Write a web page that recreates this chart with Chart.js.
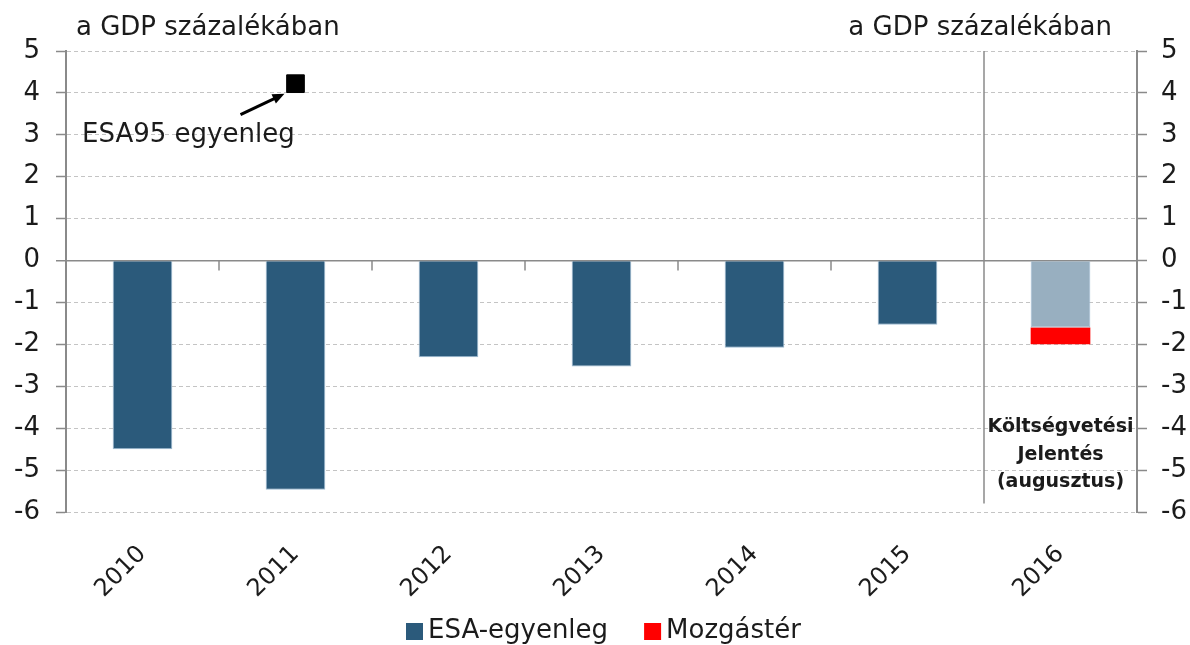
<!DOCTYPE html>
<html>
<head>
<meta charset="utf-8">
<script src="https://cdn.jsdelivr.net/npm/chart.js@4.4.1/dist/chart.umd.min.js"></script>
<style>
  html, body { margin: 0; padding: 0; background: #fff; }
  #wrap { width: 1190px; height: 645px; }
</style>
</head>
<body>
<div id="wrap"><canvas id="myChart" width="1190" height="645"></canvas></div>
<script>
// data
const years = ['2010', '2011', '2012', '2013', '2014', '2015', '2016'];
const esaBalance = [-4.5, -5.47, -2.31, -2.53, -2.08, -1.53, -1.6];
const headroom = [null, null, null, null, null, null, -0.4];
const esa95 = [null, 4.22, null, null, null, null, null];
const yTicks = [5, 4, 3, 2, 1, 0, -1, -2, -3, -4, -5, -6];

const FONT = '"DejaVu Sans", sans-serif';
const TEXT = '#1b1b1b';
const AXIS = '#8a8a8a';

const esaColors = years.map((y, i) => i === 6 ? '#98afc0' : '#2b5a7b');

// extra drawing: titles, separator, small ticks on zero line, arrow note, legend
const extras = {
    id: 'extras',
    afterDraw(chart) {
        const c = chart.ctx;
        const x = chart.scales.x;
        const y = chart.scales.y;
        const area = chart.chartArea;
        c.save();
        c.fillStyle = TEXT;
        c.font = '26px ' + FONT;
        c.textBaseline = 'alphabetic';
        c.textAlign = 'left';
        c.fillText('a GDP százalékában', 76, 35);
        c.textAlign = 'right';
        c.fillText('a GDP százalékában', 1112, 35);

        // boundaries between categories
        const y0 = y.getPixelForValue(0);
        c.strokeStyle = AXIS;
        c.lineWidth = 1.5;
        for (let i = 1; i < years.length; i++) {
            const bx = (x.getPixelForValue(i - 1) + x.getPixelForValue(i)) / 2;
            c.beginPath();
            if (i === years.length - 1) {
                c.moveTo(bx, area.top);
                c.lineTo(bx, y.getPixelForValue(-5.8));
            } else {
                c.moveTo(bx, y0);
                c.lineTo(bx, y0 + 10);
            }
            c.stroke();
        }

        // note for the ESA95 point
        const px = x.getPixelForValue(1);
        const py = y.getPixelForValue(esa95[1]);
        const tipX = px - 11, tipY = py + 10;
        const tailX = px - 55, tailY = py + 31;
        c.strokeStyle = '#000';
        c.fillStyle = '#000';
        c.lineWidth = 3;
        c.beginPath();
        c.moveTo(tailX, tailY);
        c.lineTo(tipX - 6, tipY + 3);
        c.stroke();
        const ang = Math.atan2(tipY - tailY, tipX - tailX);
        c.beginPath();
        c.moveTo(tipX, tipY);
        c.lineTo(tipX - 13 * Math.cos(ang - 0.4), tipY - 13 * Math.sin(ang - 0.4));
        c.lineTo(tipX - 13 * Math.cos(ang + 0.4), tipY - 13 * Math.sin(ang + 0.4));
        c.closePath();
        c.fill();

        c.fillStyle = TEXT;
        c.font = '26px ' + FONT;
        c.textAlign = 'left';
        c.fillText('ESA95 egyenleg', 82, 142);

        // note in the 2016 column
        const cx = x.getPixelForValue(6);
        c.font = 'bold 19px ' + FONT;
        c.textAlign = 'center';
        c.textBaseline = 'middle';
        c.fillText('Költségvetési', cx, 427);
        c.fillText('Jelentés', cx, 455);
        c.fillText('(augusztus)', cx, 482);

        // legend
        const items = [
            { text: chart.data.datasets[0].label, color: '#2b5a7b' },
            { text: chart.data.datasets[1].label, color: '#ff0000' }
        ];
        c.font = '26px ' + FONT;
        c.textAlign = 'left';
        c.textBaseline = 'middle';
        let lx = 406;
        const ly = 631;
        items.forEach(it => {
            c.fillStyle = it.color;
            c.fillRect(lx, ly - 8, 17, 17);
            c.fillStyle = TEXT;
            c.fillText(it.text, lx + 22, ly);
            lx += 22 + c.measureText(it.text).width + 36;
        });
        c.restore();
    }
};

const yGrid = {
    color: ctx => ctx.tick && ctx.tick.value === 0 ? AXIS : '#c4c4c4',
    lineWidth: ctx => ctx.tick && ctx.tick.value === 0 ? 1.5 : 1,
    tickColor: AXIS,
    tickLength: 10,
    tickWidth: 1.5,
    tickBorderDash: [],
    drawOnChartArea: true
};

const ctx = document.getElementById('myChart').getContext('2d');
const myChart = new Chart(ctx, {
    type: 'bar',
    data: {
        labels: years,
        datasets: [{
            label: 'ESA-egyenleg',
            data: esaBalance,
            backgroundColor: esaColors,
            borderColor: '#9dbad2',
            borderWidth: 1,
            stack: 's',
            order: 2
        }, {
            label: 'Mozgástér',
            data: headroom,
            backgroundColor: '#ff0000',
            borderWidth: 0,
            stack: 's',
            order: 2
        }, {
            type: 'line',
            label: 'ESA95 egyenleg',
            data: esa95,
            showLine: false,
            pointStyle: 'rect',
            pointRadius: 12.5,
            pointBorderWidth: 1,
            pointBackgroundColor: '#000',
            pointBorderColor: '#000',
            order: 1
        }]
    },
    options: {
        responsive: false,
        animation: false,
        devicePixelRatio: 1,
        categoryPercentage: 1,
        barPercentage: 0.39,
        layout: { padding: { top: 51, left: 0, right: 0, bottom: 40 } },
        plugins: {
            legend: { display: false },
            tooltip: { enabled: false }
        },
        scales: {
            x: {
                stacked: true,
                grid: { display: false },
                border: { display: false },
                ticks: {
                    font: { family: FONT, size: 24 },
                    color: TEXT,
                    maxRotation: 45,
                    minRotation: 45,
                    padding: 20
                },
                afterFit: s => { s.height = 93; }
            },
            y: {
                position: 'left',
                stacked: true,
                min: -6,
                max: 5,
                afterBuildTicks: s => { s.ticks = yTicks.map(v => ({ value: v })); },
                grid: yGrid,
                border: { color: AXIS, width: 2, dash: ctx => ctx.tick && ctx.tick.value === 0 ? [] : [4, 3] },
                ticks: {
                    font: { family: FONT, size: 26 },
                    color: TEXT,
                    padding: 16
                },
                afterFit: s => { s.width = 66; }
            },
            y2: {
                position: 'right',
                min: -6,
                max: 5,
                afterBuildTicks: s => { s.ticks = yTicks.map(v => ({ value: v })); },
                grid: { drawOnChartArea: false, tickColor: AXIS, tickLength: 10, tickWidth: 1.5 },
                border: { color: AXIS, width: 2 },
                ticks: {
                    font: { family: FONT, size: 26 },
                    color: TEXT,
                    padding: 14
                },
                afterFit: s => { s.width = 53; }
            }
        }
    },
    plugins: [extras]
});
</script>
</body>
</html>
